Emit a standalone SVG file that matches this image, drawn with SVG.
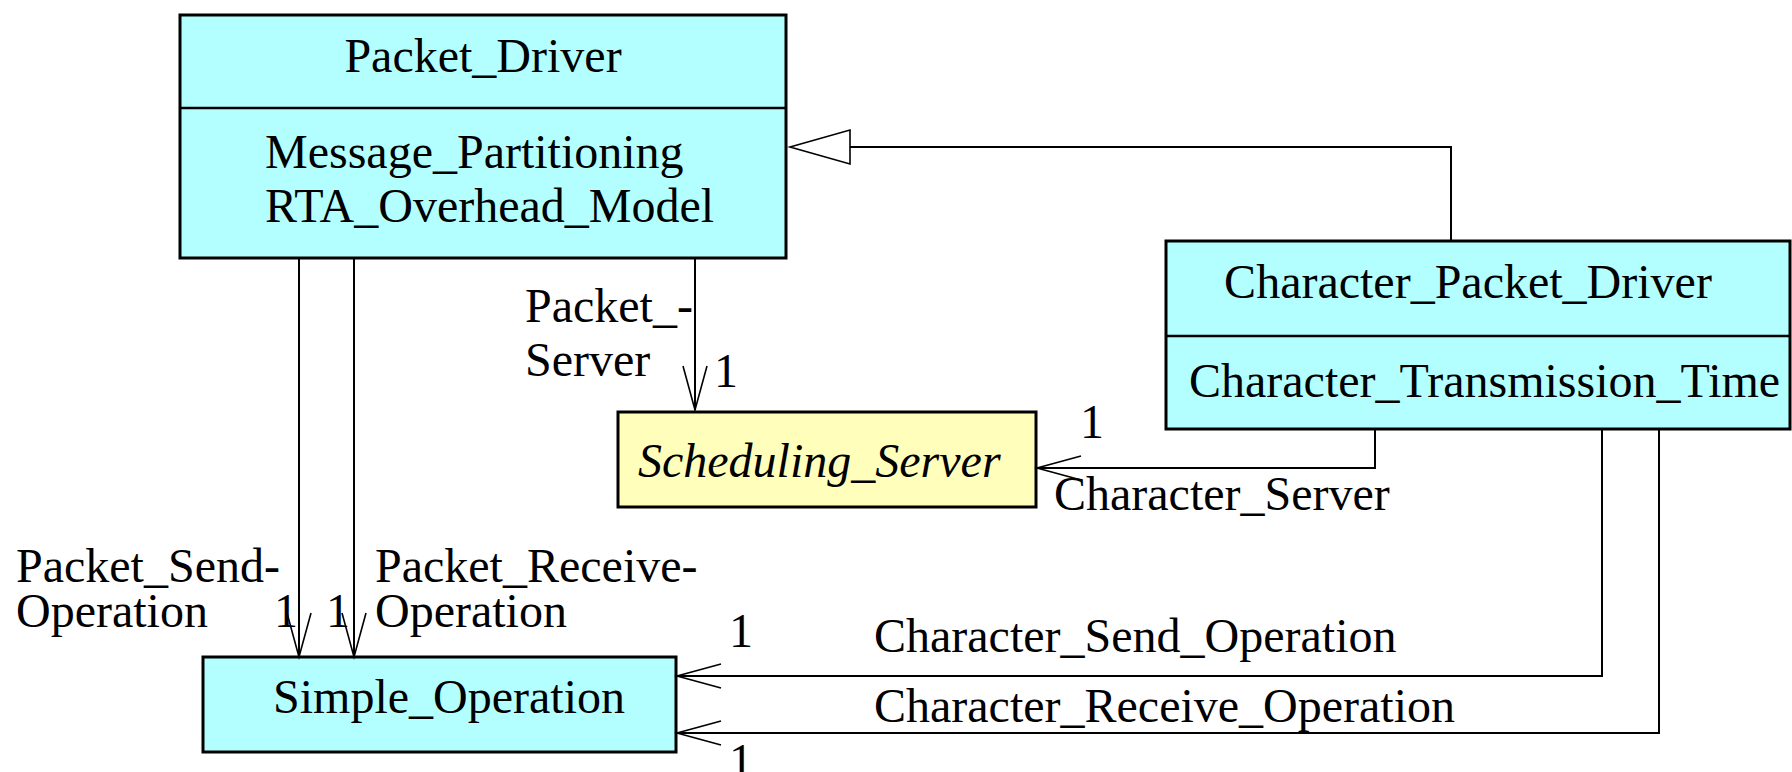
<svg xmlns="http://www.w3.org/2000/svg" width="1792" height="772" viewBox="0 0 1792 772">
  <style>
    .cls { fill: #b3ffff; stroke: #000; stroke-width: 3; }
    .abs { fill: #ffffbb; stroke: #000; stroke-width: 3; }
    .sep { stroke: #000; stroke-width: 2.5; }
    .t { font-family: "Liberation Serif", "Times New Roman", serif; font-size: 48px; fill: #000; }
    .i { font-style: italic; }
    .mid { text-anchor: middle; }
    .edge { fill: none; stroke: #000; stroke-width: 2; }
  </style>
  <defs>
    <marker id="open" markerUnits="userSpaceOnUse" viewBox="-48 -16 52 32" markerWidth="52" markerHeight="32" refX="0" refY="0" orient="auto" overflow="visible">
      <path d="M -44 -12 L 0 0 L -44 12" fill="none" stroke="#000" stroke-width="1.6"/>
    </marker>
  </defs>

  <!-- classes -->
  <g id="packet-driver">
    <rect class="cls" x="180" y="15" width="606" height="243"/>
    <line class="sep" x1="180" y1="108" x2="786" y2="108"/>
    <text class="t mid" x="483" y="72">Packet_Driver</text>
    <text class="t" x="265" y="168">Message_Partitioning</text>
    <text class="t" x="265" y="222">RTA_Overhead_Model</text>
  </g>

  <g id="character-packet-driver">
    <rect class="cls" x="1166" y="241" width="624" height="188"/>
    <line class="sep" x1="1166" y1="336" x2="1790" y2="336"/>
    <text class="t mid" x="1468" y="298">Character_Packet_Driver</text>
    <text class="t" x="1189" y="397">Character_Transmission_Time</text>
  </g>

  <g id="scheduling-server">
    <rect class="abs" x="618" y="412" width="418" height="95"/>
    <text class="t i" x="638" y="477">Scheduling_Server</text>
  </g>

  <g id="simple-operation">
    <rect class="cls" x="203" y="657" width="473" height="95"/>
    <text class="t mid" x="449" y="713">Simple_Operation</text>
  </g>

  <!-- connectors -->
  <g id="connectors">
    <!-- generalization -->
    <polyline class="edge" points="1451,241 1451,147 850,147"/>
    <polygon points="790,147 850,130 850,164" fill="#fff" stroke="#000" stroke-width="1.6"/>

    <!-- associations -->
    <line class="edge" x1="695" y1="258" x2="695" y2="410" marker-end="url(#open)"/>
    <polyline class="edge" points="1375,429 1375,468 1037,468" marker-end="url(#open)"/>
    <line class="edge" x1="299" y1="258" x2="299" y2="657" marker-end="url(#open)"/>
    <line class="edge" x1="354" y1="258" x2="354" y2="657" marker-end="url(#open)"/>
    <polyline class="edge" points="1602,429 1602,676 677,676" marker-end="url(#open)"/>
    <polyline class="edge" points="1659,429 1659,733 677,733" marker-end="url(#open)"/>

    <!-- role names and multiplicities -->
    <text class="t" x="525" y="322">Packet_-</text>
    <text class="t" x="525" y="376">Server</text>
    <text class="t" x="714" y="387">1</text>
    <text class="t" x="1080" y="438">1</text>
    <text class="t" x="1054" y="510">Character_Server</text>
    <text class="t" x="16" y="582">Packet_Send-</text>
    <text class="t" x="16" y="627">Operation</text>
    <text class="t" x="274" y="627">1</text>
    <text class="t" x="326" y="627">1</text>
    <text class="t" x="375" y="582">Packet_Receive-</text>
    <text class="t" x="375" y="627">Operation</text>
    <text class="t" x="729" y="647">1</text>
    <text class="t" x="874" y="652">Character_Send_Operation</text>
    <text class="t" x="874" y="722">Character_Receive_Operation</text>
    <text class="t" x="729" y="777">1</text>
  </g>
</svg>
